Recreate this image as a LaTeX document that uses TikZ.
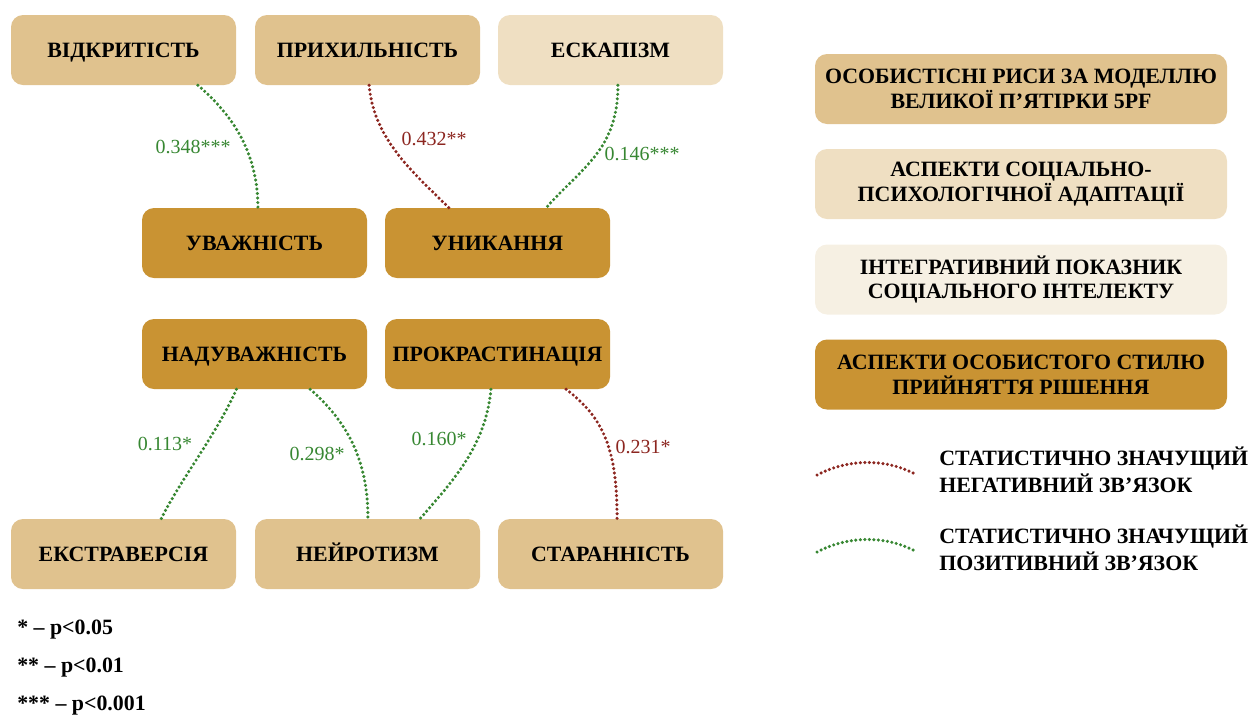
\documentclass[tikz,border=0pt]{standalone}
\usepackage{fontspec}
\setmainfont{Liberation Serif}
\usetikzlibrary{calc}
\definecolor{gold}{RGB}{201,147,51}
\definecolor{tan}{RGB}{224,194,142}
\definecolor{cream}{RGB}{239,223,194}
\definecolor{ivory}{RGB}{246,240,227}
\definecolor{posgreen}{RGB}{55,135,50}
\definecolor{negred}{RGB}{140,38,32}
\tikzset{
  box/.style={rounded corners=9pt, minimum width=168.75pt, minimum height=52.5pt, inner sep=0pt,
    font=\fontsize{16.4}{18}\selectfont\bfseries, text=black, text height=11pt, text depth=0pt},
  trait/.style={box, fill=tan},
  decis/.style={box, fill=gold},
  adapt/.style={box, fill=cream},
  legbox/.style={rounded corners=9pt, minimum width=309pt, minimum height=52.5pt, inner sep=0pt,
    font=\fontsize{16.4}{18.4}\selectfont\bfseries, align=center},
  relline/.style={line width=2.6pt, line cap=round, dash pattern=on 0pt off 3.4pt},
  posline/.style={relline, draw=posgreen},
  negline/.style={relline, draw=negred},
  plab/.style={font=\fontsize{15}{16}\selectfont, text=posgreen, inner sep=0pt},
  nlab/.style={font=\fontsize{15}{16}\selectfont, text=negred, inner sep=0pt},
  legtxt/.style={font=\fontsize{16.4}{20}\selectfont\bfseries, align=left, anchor=west, inner sep=0pt},
  foot/.style={font=\fontsize{16.4}{18}\selectfont\bfseries, anchor=base west, inner sep=0pt}
}
\begin{document}
\begin{tikzpicture}[x=0.75pt,y=-0.75pt]
\useasboundingbox (0,0) rectangle (1259,715);
% top row
\node[trait] (vid) at (123.5,50) {ВІДКРИТІСТЬ};
\node[trait] (pry) at (367.5,50) {ПРИХИЛЬНІСТЬ};
\node[adapt] (esk) at (610.5,50) {ЕСКАПІЗМ};
% middle
\node[decis] (uva) at (254.5,243) {УВАЖНІСТЬ};
\node[decis] (uny) at (497.5,243) {УНИКАННЯ};
\node[decis] (nad) at (254.5,354) {НАДУВАЖНІСТЬ};
\node[decis] (pro) at (497.5,354) {ПРОКРАСТИНАЦІЯ};
% bottom
\node[trait] (eks) at (123.5,554) {ЕКСТРАВЕРСІЯ};
\node[trait] (ney) at (367.5,554) {НЕЙРОТИЗМ};
\node[trait] (sta) at (610.5,554) {СТАРАННІСТЬ};
% connectors
\draw[posline] ($(vid.south west)!0.83!(vid.south east)$) .. controls +(35,30) and +(0,-55) .. ($(uva.north west)!0.515!(uva.north east)$);
\draw[negline] ($(pry.south west)!0.507!(pry.south east)$) .. controls +(5,55) and +(-35,-35) .. ($(uny.north west)!0.284!(uny.north east)$);
\draw[posline] ($(esk.south west)!0.533!(esk.south east)$) .. controls +(0,65) and +(35,-40) .. ($(uny.north west)!0.716!(uny.north east)$);
\draw[posline] ($(nad.south west)!0.42!(nad.south east)$) .. controls +(-20,45) and +(20,-40) .. ($(eks.north west)!0.667!(eks.north east)$);
\draw[posline] ($(nad.south west)!0.747!(nad.south east)$) .. controls +(40,35) and +(0,-55) .. ($(ney.north west)!0.502!(ney.north east)$);
\draw[posline] ($(pro.south west)!0.471!(pro.south east)$) .. controls +(-5,55) and +(35,-40) .. ($(ney.north west)!0.733!(ney.north east)$);
\draw[negline] ($(pro.south west)!0.804!(pro.south east)$) .. controls +(40,30) and +(0,-65) .. ($(sta.north west)!0.529!(sta.north east)$);
% labels
\node[plab] (l1) at (193,147) {0.348***};
\node[nlab] (l2) at (434,139) {0.432**};
\node[plab] (l3) at (642,154) {0.146***};
\node[plab] (l4) at (165,444) {0.113*};
\node[plab] (l5) at (317,454) {0.298*};
\node[plab] (l6) at (439,439) {0.160*};
\node[nlab] (l7) at (643,447) {0.231*};
% legend boxes
\node[legbox, fill=tan] (g1) at (1021,89) {ОСОБИСТІСНІ РИСИ ЗА МОДЕЛЛЮ\\ВЕЛИКОЇ П’ЯТІРКИ 5PF};
\node[legbox, fill=cream] (g2) at (1021,184) {АСПЕКТИ СОЦІАЛЬНО-\\ПСИХОЛОГІЧНОЇ АДАПТАЦІЇ};
\node[legbox, fill=ivory] (g3) at (1021,279.5) {ІНТЕГРАТИВНИЙ ПОКАЗНИК\\СОЦІАЛЬНОГО ІНТЕЛЕКТУ};
\node[legbox, fill=gold] (g4) at (1021,374.5) {АСПЕКТИ ОСОБИСТОГО СТИЛЮ\\ПРИЙНЯТТЯ РІШЕННЯ};
% legend lines
\coordinate (n1) at (817,475);
\coordinate (n2) at (915,474);
\coordinate (p1) at (817,552);
\coordinate (p2) at (915,551);
\draw[negline] (n1) .. controls +(30,-16) and +(-30,-16) .. (n2);
\draw[posline] (p1) .. controls +(30,-16) and +(-30,-16) .. (p2);
\node[legtxt] (t1) at (939,469.5) {СТАТИСТИЧНО ЗНАЧУЩИЙ\\НЕГАТИВНИЙ ЗВ’ЯЗОК};
\node[legtxt] (t2) at (939,548) {СТАТИСТИЧНО ЗНАЧУЩИЙ\\ПОЗИТИВНИЙ ЗВ’ЯЗОК};
% footnotes
\node[foot] (f1) at (17,634) {* – p<0.05};
\node[foot] (f2) at (17,672) {** – p<0.01};
\node[foot] (f3) at (17,710) {*** – p<0.001};
\end{tikzpicture}
\end{document}
